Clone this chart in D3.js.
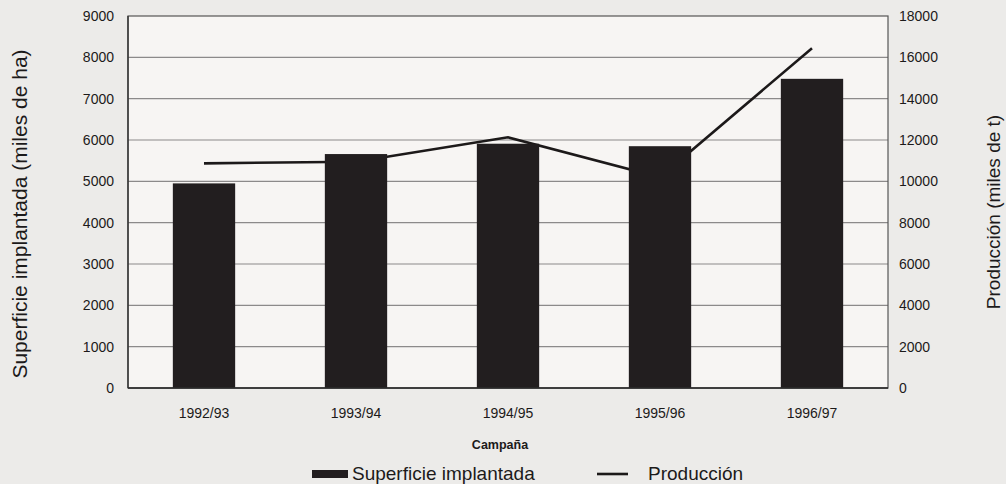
<!DOCTYPE html>
<html>
<head>
<meta charset="utf-8">
<script src="https://cdn.jsdelivr.net/npm/d3@7"></script>
<style>
  body { margin: 0; background: #ecebe9; }
  #chart { width: 1006px; height: 484px; }
  text { font-family: "Liberation Sans", Arial, sans-serif; fill: #1c1a1a; }
</style>
</head>
<body>
<div id="chart"></div>
<script>
// campañas
const campaigns = ["1992/93", "1993/94", "1994/95", "1995/96", "1996/97"]
// superficie implantada (miles de ha)
const surface = [4950, 5660, 5910, 5850, 7480]
// producción (miles de t)
const production = [10870, 10950, 12130, 10200, 16440]
const leftTicks = [0, 1000, 2000, 3000, 4000, 5000, 6000, 7000, 8000, 9000]
const rightTicks = [0, 2000, 4000, 6000, 8000, 10000, 12000, 14000, 16000, 18000]

const width = 1006, height = 484
const plot = { left: 128, right: 888, top: 16, bottom: 388 }

var svg = d3.select("#chart")
    .append("svg")
        .attr("width", width)
        .attr("height", height)

svg.append("rect")
    .attr("x", plot.left).attr("y", plot.top)
    .attr("width", plot.right - plot.left).attr("height", plot.bottom - plot.top)
    .attr("fill", "#f7f5f3")

const x = d3.scaleBand().domain(campaigns).range([plot.left, plot.right])
    .paddingInner(0.59).paddingOuter(0.295)
const yL = d3.scaleLinear().domain([0, 9000]).range([plot.bottom, plot.top])
const yR = d3.scaleLinear().domain([0, 18000]).range([plot.bottom, plot.top])

// grid
svg.append("g")
    .selectAll("line")
    .data(leftTicks.slice(1, -1))
    .enter().append("line")
    .attr("x1", plot.left).attr("x2", plot.right)
    .attr("y1", d => yL(d)).attr("y2", d => yL(d))
    .attr("stroke", "#8c8a8a")
    .attr("stroke-width", 1.2)

// line (behind the bars)
const line = d3.line()
    .x((d, i) => x(campaigns[i]) + x.bandwidth() / 2)
    .y(d => yR(d))

svg.append("path")
    .datum(production)
    .attr("fill", "none")
    .attr("stroke", "#1c1919")
    .attr("stroke-width", 2.6)
    .attr("d", line)

svg.append("g")
    .selectAll("rect")
    .data(surface)
    .enter().append("rect")
    .attr("x", (d, i) => x(campaigns[i]))
    .attr("y", d => yL(d))
    .attr("width", x.bandwidth())
    .attr("height", d => yL(0) - yL(d))
    .attr("fill", "#221e1f")

// frame
svg.append("rect")
    .attr("x", plot.left).attr("y", plot.top)
    .attr("width", plot.right - plot.left).attr("height", plot.bottom - plot.top)
    .attr("fill", "none")
    .attr("stroke", "#555")
    .attr("stroke-width", 1.2)
svg.append("line")
    .attr("x1", plot.left).attr("x2", plot.right)
    .attr("y1", plot.bottom).attr("y2", plot.bottom)
    .attr("stroke", "#222").attr("stroke-width", 1.6)
svg.append("line")
    .attr("x1", plot.left).attr("x2", plot.left)
    .attr("y1", plot.top).attr("y2", plot.bottom)
    .attr("stroke", "#333").attr("stroke-width", 1.4)

// axes
const fmt = d3.format("d")
const axL = svg.append("g")
    .attr("transform", `translate(${plot.left}, 0)`)
    .call(d3.axisLeft(yL).tickValues(leftTicks).tickFormat(fmt).tickSize(0).tickPadding(14))
const axR = svg.append("g")
    .attr("transform", `translate(${plot.right}, 0)`)
    .call(d3.axisRight(yR).tickValues(rightTicks).tickFormat(fmt).tickSize(0).tickPadding(11))
const axB = svg.append("g")
    .attr("transform", `translate(0, ${plot.bottom})`)
    .call(d3.axisBottom(x).tickSize(0).tickPadding(20))

;[axL, axR, axB].forEach(ax => {
    ax.select(".domain").remove()
    ax.selectAll("text")
        .attr("font-family", "Liberation Sans, Arial, sans-serif")
        .attr("font-size", 14)
        .attr("fill", "#1c1a1a")
})

// titles
svg.append("text")
    .attr("transform", `translate(27, ${(plot.top + plot.bottom) / 2 + 12}) rotate(-90)`)
    .attr("text-anchor", "middle")
    .attr("font-size", 21)
    .text("Superficie implantada (miles de ha)")
svg.append("text")
    .attr("transform", `translate(1000, 212) rotate(-90)`)
    .attr("text-anchor", "middle")
    .attr("font-size", 19)
    .text("Producción (miles de t)")
svg.append("text")
    .attr("x", 500).attr("y", 449)
    .attr("text-anchor", "middle")
    .attr("font-size", 12.5)
    .attr("font-weight", "bold")
    .text("Campaña")

// legend
const legend = svg.append("g")
legend.append("rect")
    .attr("x", 312).attr("y", 470).attr("width", 36).attr("height", 8)
    .attr("fill", "#221e1f")
legend.append("text")
    .attr("x", 352).attr("y", 480)
    .attr("font-size", 19)
    .text("Superficie implantada")
legend.append("line")
    .attr("x1", 597).attr("x2", 628).attr("y1", 474).attr("y2", 474)
    .attr("stroke", "#1c1919").attr("stroke-width", 2.6)
legend.append("text")
    .attr("x", 648).attr("y", 480)
    .attr("font-size", 19)
    .text("Producción")
</script>
</body>
</html>
